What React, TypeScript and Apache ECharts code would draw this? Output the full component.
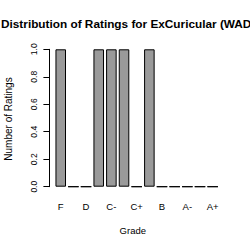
import React, { useEffect, useRef } from "react";
import * as echarts from "echarts";

const grades = ["F", "D-", "D", "D+", "C-", "C", "C+", "B-", "B", "B+", "A-", "A", "A+"];
const counts = [1, 0, 0, 1, 1, 1, 0, 1, 0, 0, 0, 0, 0];
const yTicks = [0, 0.2, 0.4, 0.6, 0.8, 1.0];
const titleText = "Distribution of Ratings for ExCuricular (WADS)";
const xLabel = "Grade";
const yLabel = "Number of Ratings";

const FONT = "'Liberation Sans', Arial, Helvetica, sans-serif";

export default function App() {
  const ref = useRef<HTMLDivElement>(null);
  useEffect(() => {
    if (!ref.current) return;
    const chart = echarts.init(ref.current, null, { renderer: "svg" });
    chart.setOption({
      animation: false,
      backgroundColor: "#ffffff",
      grid: { left: 54.4, top: 49.3, width: 164.6, height: 137.4, containLabel: false },
      xAxis: {
        type: "category",
        data: grades,
        axisLine: { show: false },
        axisTick: { show: false },
        axisLabel: {
          interval: 1,
          margin: 14.5,
          fontSize: 9.5,
          color: "#000",
          fontFamily: FONT,
        },
      },
      yAxis: {
        type: "value",
        min: yTicks[0],
        max: yTicks[yTicks.length - 1],
        interval: 0.2,
        offset: 5,
        axisLine: { show: true, lineStyle: { color: "#000", width: 1 } },
        axisTick: { show: true, length: 6, lineStyle: { color: "#000" } },
        splitLine: { show: false },
        axisLabel: {
          rotate: 90,
          margin: 11,
          fontSize: 8.5,
          color: "#000",
          fontFamily: FONT,
          formatter: (v: number) => v.toFixed(1),
        },
      },
      series: [
        {
          type: "bar",
          data: counts,
          barCategoryGap: "16.7%",
          itemStyle: { color: "#9a9a9a", borderColor: "#000", borderWidth: 1 },
        },
      ],
      graphic: [
        {
          type: "text",
          left: 1,
          top: 18,
          style: { text: titleText, font: `bold 11.8px ${FONT}`, fill: "#000" },
        },
        {
          type: "text",
          x: 132.8,
          y: 230.7,
          style: {
            text: xLabel,
            font: `9.5px ${FONT}`,
            fill: "#000",
            align: "center",
            verticalAlign: "middle",
          },
        },
        {
          type: "text",
          x: 8.5,
          y: 119,
          rotation: Math.PI / 2,
          style: {
            text: yLabel,
            font: `10px ${FONT}`,
            fill: "#000",
            align: "center",
            verticalAlign: "middle",
          },
        },
      ],
    });
    return () => chart.dispose();
  }, []);
  return <div ref={ref} style={{ width: 250, height: 250, position: "absolute", left: 0, top: 0 }} />;
}
